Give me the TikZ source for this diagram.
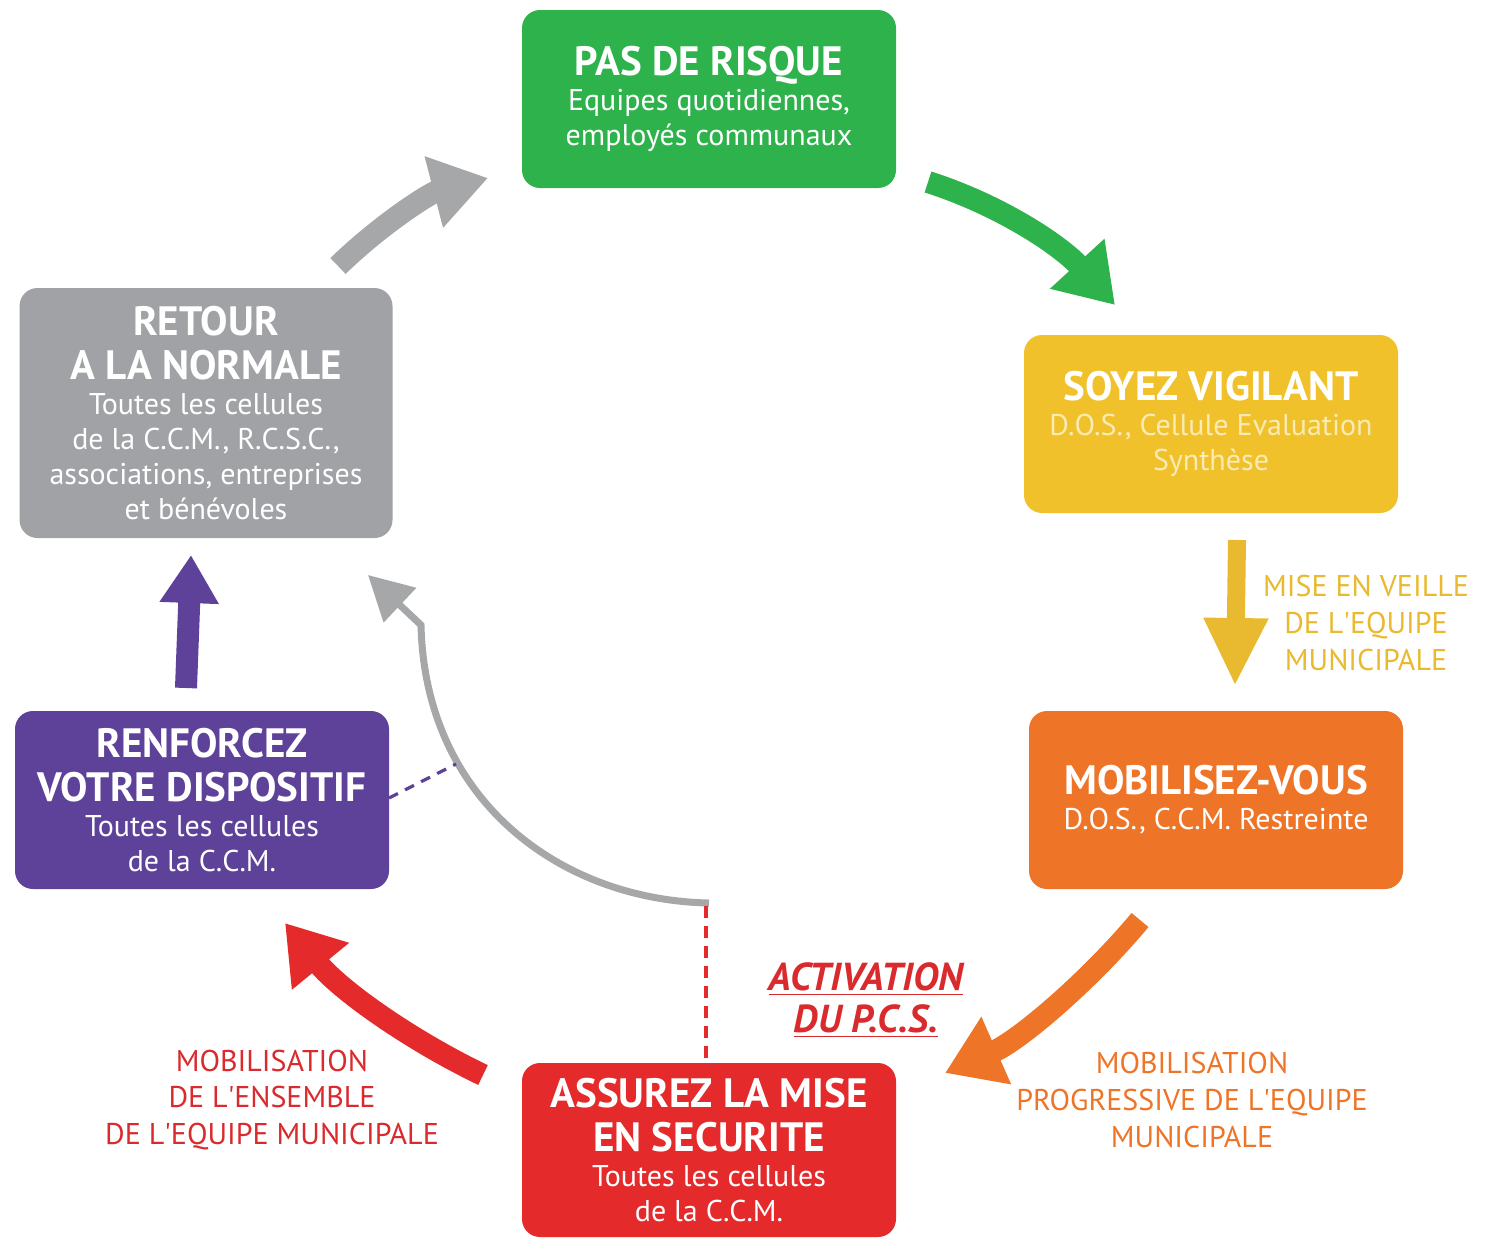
\documentclass[tikz,border=0pt]{standalone}
\usepackage{fontspec}
\setmainfont{PT Sans}
\usetikzlibrary{arrows.meta}
\definecolor{cgreen}{HTML}{2EB24B}
\definecolor{cyellow}{HTML}{F0C12B}
\definecolor{cyellowtxt}{HTML}{E9BA2F}
\definecolor{ccream}{HTML}{FAEBB5}
\definecolor{corange}{HTML}{EE7428}
\definecolor{cred}{HTML}{E42A2B}
\definecolor{credtxt}{HTML}{D92A2E}
\definecolor{cpurple}{HTML}{5E429A}
\definecolor{cgray}{HTML}{A1A2A5}
\definecolor{cgrayarr}{HTML}{A6A7A9}
\newcommand\Hf{\fontsize{20.5}{22}\selectfont\bfseries}
\newcommand\Sf{\fontsize{15}{17.5}\selectfont\mdseries}
\newcommand\Lf{\fontsize{15}{18.3}\selectfont}
\newcommand\boxtext[1]{\parbox{186pt}{\centering #1}}
\newcommand\q{\textquotesingle}
\begin{document}
\begin{tikzpicture}[x=0.5pt,y=-0.5pt,
  box/.style={rounded corners=9pt, minimum width=187pt, minimum height=89pt,
    text=white, inner sep=0pt},
  lab/.style={align=center, font=\Lf, inner sep=0pt},
  bigarr/.style={line width=11pt, -{Triangle[width=35pt,length=28pt]}},
]
\useasboundingbox (0,0) rectangle (1488,1238);

% boxes
\node[box, fill=cgreen] (risque) at (709,99)
  {\boxtext{\Hf PAS DE RISQUE\\ \Sf Equipes quotidiennes,\\ employés communaux}};
\node[box, fill=cyellow] (vigilant) at (1211,424)
  {\boxtext{\Hf SOYEZ VIGILANT\\ \Sf\color{ccream} D.O.S., Cellule Evaluation\\ Synthèse}};
\node[box, fill=corange] (mobilisez) at (1216,800)
  {\boxtext{\Hf MOBILISEZ-VOUS\\ \Sf D.O.S., C.C.M. Restreinte}};
\node[box, fill=cred, minimum height=87pt] (securite) at (709,1150)
  {\boxtext{\Hf ASSUREZ LA MISE\\ EN SECURITE\\ \Sf Toutes les cellules\\ de la C.C.M.}};
\node[box, fill=cpurple] (renforcez) at (202,800)
  {\boxtext{\Hf RENFORCEZ\\ VOTRE DISPOSITIF\\ \Sf Toutes les cellules\\ de la C.C.M.}};
\node[box, fill=cgray, minimum width=186.5pt, minimum height=125pt] (retour) at (206,413)
  {\boxtext{\Hf RETOUR\\ A LA NORMALE\\ \Sf Toutes les cellules\\ de la C.C.M., R.C.S.C.,\\ associations, entreprises\\ et bénévoles}};

% labels
\node[lab, text=cyellowtxt] (veille) at (1366,623) {MISE EN VEILLE\\DE L\q EQUIPE\\MUNICIPALE};
\node[lab, text=corange] (progressive) at (1192,1100) {MOBILISATION\\PROGRESSIVE DE L\q EQUIPE\\MUNICIPALE};
\node[lab, text=credtxt] (ensemble) at (272,1100) {MOBILISATION\\DE L\q ENSEMBLE\\DE L\q EQUIPE MUNICIPALE};
\node[align=center, text=credtxt, inner sep=0pt, font=\fontsize{19.5}{21}\selectfont\bfseries\itshape] (activation) at (866,1000)
  {\underline{ACTIVATION}\\ \underline{DU P.C.S.}};

% arrow end points
\coordinate (g1) at (928,182);  \coordinate (g2) at (1115,305);
\coordinate (y1) at (1237,540); \coordinate (y2) at (1235,686);
\coordinate (o1) at (1140,920); \coordinate (o2) at (945,1073);
\coordinate (r1) at (483,1075); \coordinate (r2) at (285,923);
\coordinate (p1) at (186,688);  \coordinate (p2) at (191,555);
\coordinate (t1) at (338,266);  \coordinate (t2) at (488,178);
\coordinate (c1) at (709,903);  \coordinate (c2) at (421,625); \coordinate (c3) at (368,575);
\coordinate (d1) at (706,906);
\coordinate (e1) at (389,798);  \coordinate (e2) at (456,764);

% big arrows
\draw[bigarr, cgreen] (g1) .. controls (1000,205) and (1060,245) .. (g2);
\draw[cyellowtxt, line width=9pt, -{Triangle[width=30pt,length=34pt]}] (y1) -- (y2);
\draw[bigarr, corange] (o1) .. controls (1090,980) and (1020,1040) .. (o2);
\draw[bigarr, cred] (r1) .. controls (410,1040) and (340,990) .. (r2);
\draw[cpurple, line width=11pt, -{Triangle[width=28pt,length=24pt]}] (p1) -- (p2);
\draw[bigarr, cgrayarr] (t1) .. controls (380,225) and (430,193) .. (t2);

% thin gray arrow
\draw[cgrayarr, line width=3.5pt, -{Triangle[width=23pt,length=22pt]}]
  (c1) .. controls (560,900) and (425,800) .. (c2) -- (c3);

% dashed lines
\draw[cred, line width=1.8pt, dash pattern=on 6pt off 4pt] (d1) -- (securite.north -| d1);
\draw[cpurple, line width=1.6pt, dash pattern=on 5pt off 4pt] (e1) -- (e2);
\end{tikzpicture}
\end{document}
